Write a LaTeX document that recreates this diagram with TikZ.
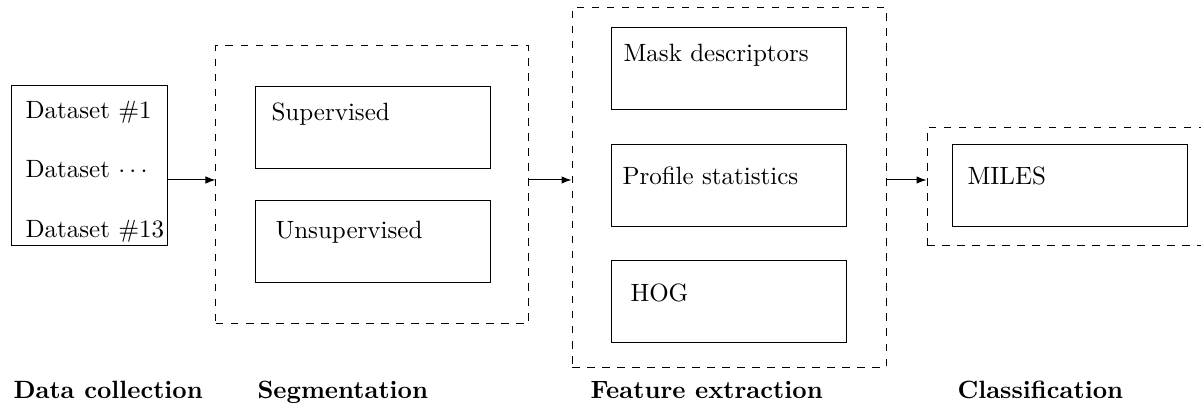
\documentclass[tikz,border=0pt]{standalone}
\usetikzlibrary{arrows.meta}
\begin{document}
\begin{tikzpicture}[x=0.4pt,y=-0.4pt,
  box/.style={draw,line width=0.4pt,minimum width=94pt,minimum height=32.8pt,inner sep=0pt},
  stage/.style={draw,dashed,line width=0.4pt},
  txt/.style={anchor=base west,inner sep=0pt},
  head/.style={anchor=base west,inner sep=0pt,font=\bfseries},
  flow/.style={-{Latex[length=4pt,width=3pt]},line width=0.4pt}]
\useasboundingbox (0,0) rectangle (1201,405);

% data collection
\draw[line width=0.4pt] (11,86) rectangle (167,246);
\coordinate (dataR) at (167,180);
\node[txt] (d1) at (25,119) {Dataset \#1};
\node[txt] (d2) at (25,178) {Dataset $\cdots$};
\node[txt] (d3) at (25,238) {Dataset \#13};

% segmentation stage
\node[stage,minimum width=124.8pt,minimum height=111.2pt,inner sep=0pt] (seg) at (372,185) {};
\node[box] (sup) at (372.5,127.5) {};
\node[txt] (supT) at (271,121) {Supervised};
\node[box] (uns) at (372.5,241.5) {};
\node[txt] (unsT) at (275,239) {Unsupervised};

% feature extraction stage
\node[stage,minimum width=125.6pt,minimum height=143.6pt,inner sep=0pt] (feat) at (729,187.5) {};
\node[box] (mask) at (729,69) {};
\node[txt] (maskT) at (623,62) {Mask descriptors};
\node[box] (prof) at (729,186) {};
\node[txt] (profT) at (622,185) {Profile statistics};
\node[box] (hog) at (729,301.5) {};
\node[txt] (hogT) at (630,302) {HOG};

% classification stage
\node[stage,minimum width=113.2pt,minimum height=47.2pt,inner sep=0pt] (cls) at (1068.5,186.5) {};
\node[box] (miles) at (1069.5,185.5) {};
\node[txt] (milesT) at (967,185) {MILES};

% connectors
\draw[flow] (dataR) -- (seg.west |- dataR);
\draw[flow] (seg.east |- dataR) -- (feat.west |- dataR);
\draw[flow] (feat.east |- dataR) -- (cls.west |- dataR);

% stage titles
\node[head] (h1) at (13,399) {Data collection};
\node[head] (h2) at (257,399) {Segmentation};
\node[head] (h3) at (590,399) {Feature extraction};
\node[head] (h4) at (957,399) {Classification};
\end{tikzpicture}
\end{document}
